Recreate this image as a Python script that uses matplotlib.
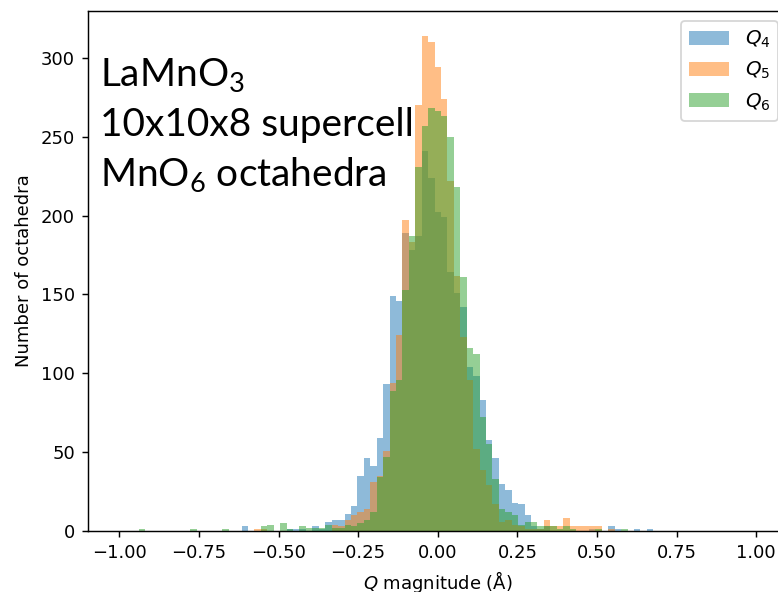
import numpy as np
import matplotlib
matplotlib.use("Agg")
import matplotlib.pyplot as plt

# shared bin edges of the three histograms
edges = np.linspace(-1, 1, 100)
centers = (edges[:-1] + edges[1:]) / 2

# counts per bin (99 bins)
q4 = [0, 0, 0, 0, 0, 0, 0, 0, 0, 0, 0,
      0, 0, 0, 0, 0, 0, 0, 0, 3, 0, 0,
      0, 0, 0, 0, 1, 1, 1, 0, 3, 1, 6,
      7, 7, 11, 16, 35, 46, 41, 59, 93, 149, 146,
      189, 178, 187, 241, 224, 202, 199, 164, 151, 142, 104,
      98, 83, 58, 46, 30, 26, 18, 17, 10, 3, 1,
      3, 0, 0, 0, 0, 0, 0, 1, 0, 0, 3,
      1, 0, 0, 1, 0, 1, 0, 0, 0, 0, 0,
      0, 0, 0, 0, 0, 0, 0, 0, 0, 0, 0]
q5 = [0, 0, 0, 0, 0, 0, 0, 0, 0, 0, 0,
      0, 0, 0, 0, 0, 0, 0, 0, 0, 0, 1,
      1, 0, 0, 0, 0, 0, 0, 0, 0, 0, 0,
      4, 3, 7, 10, 12, 14, 31, 35, 51, 94, 124,
      197, 183, 270, 314, 310, 294, 274, 222, 162, 123, 96,
      52, 39, 29, 17, 6, 7, 4, 3, 1, 1, 1,
      7, 3, 3, 8, 3, 3, 3, 3, 3, 0, 1,
      0, 0, 0, 0, 0, 0, 0, 0, 0, 0, 0,
      0, 0, 0, 0, 0, 0, 0, 0, 0, 0, 0]
q6 = [0, 0, 0, 1, 0, 0, 0, 0, 0, 0, 0,
      1, 0, 0, 0, 0, 1, 0, 0, 0, 0, 0,
      3, 4, 0, 5, 1, 0, 3, 2, 2, 2, 4,
      2, 2, 4, 3, 5, 7, 12, 34, 47, 89, 96,
      153, 187, 231, 257, 268, 266, 263, 250, 218, 161, 116,
      112, 72, 55, 33, 14, 12, 10, 4, 6, 6, 3,
      3, 3, 1, 3, 1, 0, 0, 0, 1, 0, 0,
      0, 1, 0, 0, 0, 0, 0, 0, 0, 0, 0,
      0, 0, 0, 0, 0, 0, 0, 0, 0, 0, 0]
labels = ["$Q_4$", "$Q_5$", "$Q_6$"]

fig = plt.figure(figsize=(778 / 130, 592 / 130), dpi=130)
# axes runs past the right edge of the canvas, as in the reference crop
ax = fig.add_axes([0.1125, 0.103, 0.9004, 0.8784])

for counts, lab in zip([q4, q5, q6], labels):
    ax.hist(centers, bins=edges, weights=counts, alpha=0.5, label=lab)

ax.set_xlim(-1.1, 1.1)
ax.set_xticks(np.arange(-1, 1.01, 0.25))
ax.set_xlabel("$Q$ magnitude (Å)")
ax.set_ylabel("Number of octahedra")
ax.legend(loc="upper right", fontsize=11)

big = dict(transform=ax.transAxes, fontsize=21.5, family="Lato", va="baseline")
ax.text(0.018, 0.856, r"LaMnO$\mathregular{_3}$", **big)
ax.text(0.018, 0.760, "10x10x8 supercell", **big)
ax.text(0.018, 0.664, r"MnO$\mathregular{_6}$ octahedra", **big)

fig.savefig("out.png", dpi=130)
